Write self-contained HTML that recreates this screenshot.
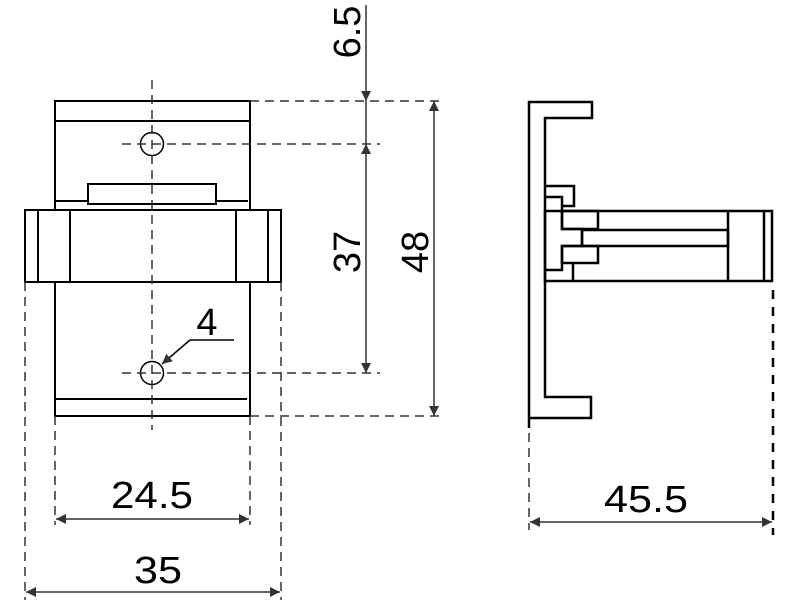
<!DOCTYPE html>
<html><head><style>body{margin:0;background:#fff}svg{display:block}</style></head><body>
<svg width="800" height="600" viewBox="0 0 800 600" xmlns="http://www.w3.org/2000/svg">
<defs>
<marker id="a" viewBox="0 0 10 10" refX="10" refY="5" markerWidth="10" markerHeight="10" markerUnits="userSpaceOnUse" orient="auto-start-reverse"><path d="M0,0 L10,5 L0,10 z" fill="#333"/></marker>
</defs>
<g fill="none" stroke="#000" stroke-width="2">
<!-- left view -->
<rect x="55" y="101" width="195" height="109"/>
<line x1="55" y1="121" x2="250" y2="121"/>
<rect x="88" y="184" width="128" height="20"/>
<line x1="55" y1="201" x2="88" y2="201"/><line x1="216" y1="201" x2="248" y2="201"/>
<rect x="25" y="210" width="256" height="72"/>
<line x1="38" y1="210" x2="38" y2="282"/><line x1="70" y1="210" x2="70" y2="282"/>
<line x1="236" y1="210" x2="236" y2="282"/><line x1="268" y1="210" x2="268" y2="282"/>
<rect x="55" y="282" width="195" height="134"/>
<line x1="55" y1="399" x2="247" y2="399"/>
</g>
<g fill="none" stroke="#000" stroke-width="1.5">
<circle cx="152" cy="144" r="11.5"/><circle cx="152" cy="373" r="11.5"/>
</g>
<g fill="none" stroke="#333" stroke-width="1.5" stroke-dasharray="9,6">
<line x1="152" y1="80" x2="152" y2="430"/>
<line x1="250" y1="101" x2="440" y2="101"/>
<line x1="122" y1="144" x2="380" y2="144"/>
<line x1="122" y1="373" x2="380" y2="373"/>
<line x1="250" y1="416" x2="440" y2="416"/>
<line x1="25" y1="282" x2="25" y2="600"/>
<line x1="281" y1="282" x2="281" y2="600"/>
<line x1="55" y1="416" x2="55" y2="525"/>
<line x1="250" y1="416" x2="250" y2="525"/>
<line x1="529" y1="418" x2="529" y2="530"/>
</g>
<line x1="773" y1="290" x2="773" y2="535" stroke="#000" stroke-width="2.5" stroke-dasharray="9,8"/>
<!-- leader -->
<polyline points="190,340 234,340" fill="none" stroke="#000" stroke-width="1.5"/>
<line x1="190" y1="340" x2="162" y2="364" stroke="#000" stroke-width="1.5" marker-end="url(#a)"/>
<!-- dims -->
<g stroke="#333" stroke-width="1.5" fill="none">
<line x1="366" y1="5" x2="366" y2="101" marker-end="url(#a)"/>
<line x1="366" y1="101" x2="366" y2="144"/>
<line x1="366" y1="144" x2="366" y2="373" marker-start="url(#a)" marker-end="url(#a)"/>
<line x1="434" y1="101" x2="434" y2="416" marker-start="url(#a)" marker-end="url(#a)"/>
<line x1="56" y1="519" x2="249" y2="519" marker-start="url(#a)" marker-end="url(#a)"/>
<line x1="26" y1="592" x2="280" y2="592" marker-start="url(#a)" marker-end="url(#a)"/>
<line x1="530" y1="522" x2="772" y2="522" marker-start="url(#a)" marker-end="url(#a)"/>
</g>
<g font-family="Liberation Sans, sans-serif" font-size="38" fill="#000">
<text x="152" y="508" text-anchor="middle" textLength="82" lengthAdjust="spacingAndGlyphs">24.5</text>
<text x="158" y="583" text-anchor="middle" textLength="48" lengthAdjust="spacingAndGlyphs">35</text>
<text x="646" y="512" text-anchor="middle" textLength="84" lengthAdjust="spacingAndGlyphs">45.5</text>
<text x="207" y="335" text-anchor="middle">4</text>
<text transform="translate(360,32) rotate(-90)" text-anchor="middle">6.5</text>
<text transform="translate(360,252) rotate(-90)" text-anchor="middle">37</text>
<text transform="translate(428,252) rotate(-90)" text-anchor="middle">48</text>
</g>
<!-- right view -->
<g fill="none" stroke="#000" stroke-width="2.5">
<polyline points="529,428 529,102 592,102 592,118 545,118 545,397 591,397 591,418 529,418"/>
<rect x="545" y="211" width="227" height="70"/>
<line x1="728" y1="211" x2="728" y2="281"/><line x1="764" y1="211" x2="764" y2="281"/>
<polyline points="545,186 574,186 574,206 562,206"/>
<polyline points="545,197 562,197 562,229 582,229 582,246 562,246 562,270 545,270"/>
<rect x="562" y="211" width="36" height="18"/>
<rect x="582" y="230" width="146" height="16"/>
<rect x="562" y="246" width="36" height="17"/>
<line x1="573" y1="263" x2="573" y2="281"/>
</g>
</svg>
</body></html>
